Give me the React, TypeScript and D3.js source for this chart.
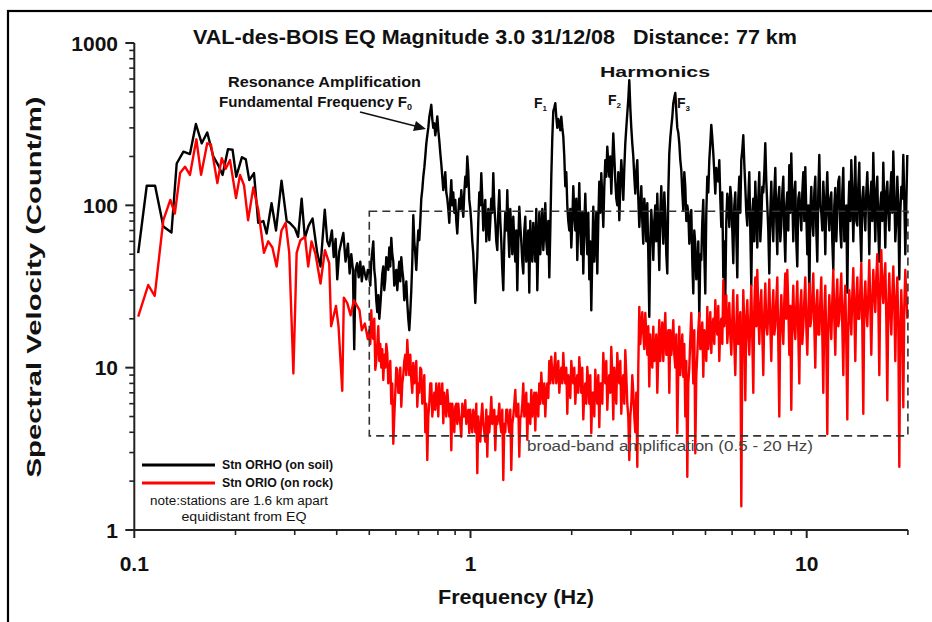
import React, { useEffect, useRef } from "react";
import * as d3 from "d3";

const title = "VAL-des-BOIS EQ Magnitude 3.0 31/12/08   Distance: 77 km";
const xTitle = "Frequency (Hz)";
const yTitle = "Spectral Velocity (Count/m)";
const xMajor = [0.1, 1, 10];
const xMajorLabels = ["0.1", "1", "10"];
const xMinor = [0.2, 0.3, 0.4, 0.5, 0.6, 0.7, 0.8, 0.9, 2, 3, 4, 5, 6, 7, 8, 9, 20];
const yMajor = [1, 10, 100, 1000];
const yMajorLabels = ["1", "10", "100", "1000"];
const yMinor = [2, 3, 4, 5, 6, 7, 8, 9, 20, 30, 40, 50, 60, 70, 80, 90, 200, 300, 400, 500, 600, 700, 800, 900];

const seriesNames = ["Stn ORHO (on soil)", "Stn ORIO (on rock)"];
const noteLines = ["note:stations are 1.6 km apart", "equidistant from EQ"];
const boxBand = { fLow: 0.5, fHigh: 20, vTop: 92, vBottom: 3.8 };
const boxLabel = "broad-band amplification (0.5 - 20 Hz)";

// low-frequency part (explicit frequency / value)
const soilLowF = [0.1027,0.1089,0.1153,0.122,0.129,0.1337,0.140,0.1464,0.1525,0.1587,0.1648,0.1718,0.1777,0.183,0.190,0.196,0.201,0.209,0.2146,0.2198,0.227,0.2337,0.242,0.2475,0.256,0.264,0.2741,0.284,0.29,0.3006,0.307,0.3146,0.3216,0.33,0.339,0.350,0.358,0.3686,0.375,0.380,0.387,0.392,0.397,0.4015,0.407,0.4186,0.425,0.432,0.437,0.442,0.447,0.451,0.455,0.46,0.465,0.47,0.475,0.48,0.485,0.49,0.495];
const soilLowV = [50.7,132,132,74,68,181,214,207,317,241,281,200,177,154,222,220,150,198,192,143,158,78,80,67,103,70,142,80,78,72,64,110,63,75,83,51,42,94,60,56,70,48,62,35,52,67.5,45,58,38,50,40,13,40,44,36,45,34,42,38,35,40];
const rockLowF = [0.1027,0.110,0.115,0.122,0.128,0.132,0.1368,0.1415,0.1464,0.153,0.158,0.1648,0.169,0.1766,0.182,0.187,0.1926,0.2007,0.2063,0.212,0.218,0.226,0.2337,0.243,0.2503,0.2575,0.265,0.274,0.282,0.289,0.2973,0.304,0.312,0.322,0.329,0.3366,0.346,0.358,0.369,0.380,0.385,0.398,0.405,0.4155,0.42,0.43,0.44,0.45,0.4676,0.475,0.485,0.495];
const rockLowV = [20.6,32.3,27.7,81,108,89,158,173,154,255,154,241,237,137,195,168,190,111,154,133,81,129,94,51,60,55,42,70,78,51,9.2,51,61,64,42,60,50,33,53,44,18,24,18,7.2,27,25,21,26,22.6,17,18.7,15];

// 0.5 - 20 Hz part: values on a log-spaced frequency grid (main samples),
// plus the samples lying half-way between them
const gridStartHz = 0.5;
const gridStepDecades = 0.005949;
const soilHighV = [
40,45,60,35,22,20,30,42,35,45,
55,63,45,35,30,45,48,35,29,25,
17,30,87,50,55,61,110,150,200,270,
350,416,300,270,353,250,180,124,160,110,
78,143,120,108,67,110,124,85,150,200,
108,78,50,25,48,120,158,70,108,75,
61,110,158,80,53,124,60,30,90,124,
48,70,85,45,30,98,60,38,85,60,
29,55,78,45,30,90,70,53,103,50,
36,150,380,426,300,320,352,265,131,100,
70,55,131,70,46,137,50,38,118,50,
35,22.6,98,60,38,140,158,73.5,190,230,
150,118,277,143,100,81,190,108,241,369,
590,300,200,118,190,73.5,131,58,90,103,
20.6,93.5,46,100,118,40,131,58,90,38,
209,304,426,493,300,241,165,93.5,131,100,
58,93.5,28.6,58,40,20.6,46,108,28.6,150,
190,313,209,118,150,190,73.5,36,27,118,
73.5,110,44,120,36,150,190,270,130,75,
160,32,110,140,55,160,80,120,241,100,
38,140,60,170,50,130,75,150,45,120,
177,209,60,140,42,120,70,160,172,50,
27,130,65,150,45,204,90,140,50,160,
70,120,40,128,90,150,55,170,80,29,
140,190,60,199,75,183,45,130,70,160,
50,140,210,60,150,45,120,183,55,140,
70,160,215,60,150,35,130,204,50,204
];
const soilMidV = [
32,52,40,26,28,24,38,30,48,40,
42,50,32,40,38,34,40,26,34,20,
22,45,60,40,70,80,125,170,240,300,
380,340,320,300,290,210,150,140,120,95,
110,100,90,80,90,95,100,120,130,160,
95,60,35,36,80,100,110,90,60,95,
80,90,100,60,90,80,40,60,70,70,
95,50,60,70,60,75,45,70,45,70,
80,45,60,95,55,50,95,70,60,80,
70,260,400,350,340,290,300,200,160,80,
95,80,90,110,80,70,90,75,70,90,
60,50,45,90,80,90,110,130,150,180,
200,180,200,110,160,130,150,170,300,450,
400,240,150,160,110,100,80,110,60,50,
60,70,80,60,70,90,80,120,50,120,
260,350,460,380,280,190,120,160,80,90,
80,45,70,35,60,50,80,50,90,120,
240,260,160,170,140,110,120,60,80,100,
130,70,100,65,110,90,220,180,90,110,
70,90,60,90,110,60,130,160,140,70,
90,80,120,80,110,60,120,70,100,70,
90,110,120,60,110,90,120,80,90,100,
90,80,120,70,120,100,70,100,110,90,
110,60,100,60,140,70,120,60,100,90,
80,120,110,80,130,70,110,90,120,100,
110,80,110,120,70,100,80,100,120,90,
120,90,120,80,100,90,110,110,100
];
const rockHighV = [
17,22.6,15,9.7,14,11,10,8.4,10,12.3,
9,6,3.4,7,9.7,7,5.75,9,12,14.8,
9,8.4,10.7,9,5.75,7,9.7,7,4,2.7,
6,8,6,5.5,7,8,6,4.55,6,7.3,
5,3.1,5,5.75,4.5,5,3.75,5,6.3,5,
3.95,4.5,5.5,4,2.24,4,5,4.5,3.5,2.83,
4,6.6,5,3.1,4.5,6,4,2.03,4,5.5,
4,2.34,5,7.3,5,2.83,5,8,6,3.6,
5,7.3,6,4.1,6,8,9.3,6,5,8,
11,11.7,8,12.3,9,7,10,12.3,8,5.2,
8,11,8,6,9,11.6,7,4.8,8,10.1,
6,3.95,7,9.7,6,4.3,8,12.3,8,5.5,
9,13.4,4.8,8,12.3,8,5.2,9,12.8,6,
2.7,6,7,4,2.45,23.7,18,16.3,21.7,12,
7.65,12,17.9,12,7,19.6,15,11,21.7,12,
7,12,19.6,10,3.95,17.9,12,8.8,5,2.13,
10,21.7,8,2.97,12,21.7,14,8.8,15,23.7,
16,12.3,20,26,16,11,20,34.6,22,14.2,
25,12,30,9,28,15,1.4,30,6.3,26,
12,32,7,36,40,14,30,9,33,16,
35,11,30,18,36,5,28,14,38,40,
12,5.5,32,15,34,8,30,18,36,12,
33,20,38,10,30,16,36,7,32,3.9,
28,15,40,12,35,20,38,9,32,4.8,
30,16,41,11,36,20,44,5.2,34,18,
46,12,40,22,50,9,53,25,44,6.3,
38,16,42,11,36,2.45,30,5.7,40,20
];
const rockMidV = [
14,16,20,11,18,14,13,12,14,8,
11,8,5,10,7,10,8,11,9,11,
12,7,8,11,8,10,6,9,6,5,
8,5,7,8,5,6,8,7,5,6,
6,6,4,6,6,4.5,6,5,4.5,5.5,
5.5,4,5,6,5,3.5,6,4,5.5,5,
5,4.5,5.5,5,5,4.5,5.5,4.5,5.5,4.5,
5.5,4.5,6,5,6,5,6,5,7,6,
4.5,5,7,7,5,6,7,8,7,6.5,
8,9,10,8,11,9,8,9,10,9,
6.5,9,10,8,7,9,10,7,6,8,
9,7,5,7,9,8,6,9,11,8,
7,9,10,6,9,11,8,6,9,5,
5,9,5,7,10,14,22,13,16,18,
16,10,11,16,12,11,19,16,12,17,
17,14,12,16,10,9,16,14,11,8,
15,14,17,9,17,13,19,17,11,13,
22,18,14,18,24,18,14,18,28,18,
16,20,14,18,14,22,12,18,20,16,
20,15,24,18,22,24,16,22,18,22,
18,22,16,26,14,20,18,26,20,24,
24,20,18,24,16,24,14,26,18,22,
18,28,18,24,16,26,16,22,14,18,
20,26,20,26,18,28,18,24,14,18,
22,28,22,26,20,30,18,26,22,28,
24,26,28,36,26,32,30,36,20,24,
22,28,24,26,18,16,18,24,28
];

const FONT = "'Liberation Sans', Arial, Helvetica, sans-serif";

function buildSeries(lowF: number[], lowV: number[], highV: number[], midV: number[]): [number, number][] {
  const pts: [number, number][] = [];
  const n = Math.min(lowF.length, lowV.length);
  for (let i = 0; i < n; i++) pts.push([lowF[i], lowV[i]]);
  highV.forEach((v, i) => {
    pts.push([gridStartHz * Math.pow(10, i * gridStepDecades), v]);
    if (i < midV.length && i < highV.length - 1) {
      pts.push([gridStartHz * Math.pow(10, (i + 0.5) * gridStepDecades), midV[i]]);
    }
  });
  return pts;
}

export default function App() {
  const ref = useRef<SVGSVGElement>(null);
  useEffect(() => {
    const svg = d3.select(ref.current);
    svg.selectAll("*").remove();
    const x = d3.scaleLog().domain([0.1, 20]).range([134.3, 907.9]);
    const y = d3.scaleLog().domain([1, 1000]).range([530, 43]);

    // frame
    svg.append("rect").attr("x", 8).attr("y", 11).attr("width", 960).attr("height", 700)
      .attr("fill", "none").attr("stroke", "#000").attr("stroke-width", 2.2);

    const line = d3.line<[number, number]>().x(d => x(d[0])).y(d => y(d[1]));
    const soil = buildSeries(soilLowF, soilLowV, soilHighV, soilMidV);
    const rock = buildSeries(rockLowF, rockLowV, rockHighV, rockMidV);

    svg.append("path").attr("d", line(soil)).attr("fill", "none").attr("stroke", "#000")
      .attr("stroke-width", 2.4).attr("stroke-linejoin", "round");
    svg.append("path").attr("d", line(rock)).attr("fill", "none").attr("stroke", "#ff0000")
      .attr("stroke-width", 2.4).attr("stroke-linejoin", "round");

    // dashed box
    svg.append("rect")
      .attr("x", x(boxBand.fLow)).attr("y", y(boxBand.vTop))
      .attr("width", x(boxBand.fHigh) - x(boxBand.fLow))
      .attr("height", y(boxBand.vBottom) - y(boxBand.vTop))
      .attr("fill", "none").attr("stroke", "#333").attr("stroke-width", 1.6)
      .attr("stroke-dasharray", "8,5");
    svg.append("text").attr("x", 527).attr("y", 451).attr("font-family", FONT).attr("font-size", 14)
      .attr("fill", "#444").attr("textLength", 286).attr("lengthAdjust", "spacingAndGlyphs").text(boxLabel);

    // axes
    const axisColor = "#222";
    const ax = svg.append("g").attr("stroke", axisColor).attr("stroke-width", 2);
    ax.append("line").attr("x1", x(0.1)).attr("x2", x(20)).attr("y1", y(1)).attr("y2", y(1));
    ax.append("line").attr("x1", x(0.1)).attr("x2", x(0.1)).attr("y1", y(1)).attr("y2", y(1000));
    xMajor.forEach(v => ax.append("line").attr("x1", x(v)).attr("x2", x(v)).attr("y1", y(1)).attr("y2", y(1) + 8));
    xMinor.forEach(v => ax.append("line").attr("x1", x(v)).attr("x2", x(v)).attr("y1", y(1)).attr("y2", y(1) + 5).attr("stroke-width", 1.6));
    yMajor.forEach(v => ax.append("line").attr("x1", x(0.1) - 9).attr("x2", x(0.1)).attr("y1", y(v)).attr("y2", y(v)));
    yMinor.forEach(v => ax.append("line").attr("x1", x(0.1) - 5).attr("x2", x(0.1)).attr("y1", y(v)).attr("y2", y(v)).attr("stroke-width", 1.6));

    const lab = svg.append("g").attr("font-family", FONT).attr("font-weight", "bold").attr("fill", "#111");
    xMajor.forEach((v, i) => lab.append("text").attr("x", x(v)).attr("y", 571).attr("text-anchor", "middle")
      .attr("font-size", 21).text(xMajorLabels[i]));
    yMajor.forEach((v, i) => lab.append("text").attr("x", 118).attr("y", y(v)).attr("dy", "0.36em")
      .attr("text-anchor", "end").attr("font-size", 21).text(yMajorLabels[i]));

    lab.append("text").attr("x", 516).attr("y", 604).attr("text-anchor", "middle").attr("font-size", 20)
      .attr("textLength", 156).attr("lengthAdjust", "spacingAndGlyphs").text(xTitle);
    lab.append("text").attr("transform", "translate(41,287) rotate(-90)").attr("text-anchor", "middle")
      .attr("font-size", 20).attr("textLength", 381).attr("lengthAdjust", "spacingAndGlyphs").text(yTitle);
    lab.append("text").attr("x", 495).attr("y", 44).attr("text-anchor", "middle").attr("font-size", 21)
      .style("white-space", "pre").attr("textLength", 604).attr("lengthAdjust", "spacingAndGlyphs").text(title);

    // annotations
    const an = svg.append("g").attr("font-family", FONT).attr("font-weight", "bold").attr("fill", "#111");
    an.append("text").attr("x", 228).attr("y", 87).attr("font-size", 15).attr("textLength", 193)
      .attr("lengthAdjust", "spacingAndGlyphs").text("Resonance Amplification");
    const fund = an.append("text").attr("x", 219).attr("y", 107).attr("font-size", 15);
    fund.append("tspan").attr("textLength", 188).attr("lengthAdjust", "spacingAndGlyphs").text("Fundamental Frequency F");
    fund.append("tspan").attr("font-size", 9).attr("dy", 3).text("0");
    an.append("text").attr("x", 600).attr("y", 77).attr("font-size", 14).attr("textLength", 110)
      .attr("lengthAdjust", "spacingAndGlyphs").text("Harmonics");
    const fLabels: [string, number, number][] = [["1", 534, 108], ["2", 608, 105], ["3", 677, 108]];
    fLabels.forEach(([s, px, py]) => {
      const t = an.append("text").attr("x", px).attr("y", py).attr("font-size", 14);
      t.append("tspan").text("F");
      t.append("tspan").attr("font-size", 8).attr("dy", 3).text(s);
    });
    svg.append("line").attr("x1", 360).attr("y1", 112).attr("x2", 419).attr("y2", 127)
      .attr("stroke", "#111").attr("stroke-width", 1.8);
    svg.append("path").attr("d", "M426,129 L416,121 L413,131 Z").attr("fill", "#111");

    // legend
    svg.append("line").attr("x1", 142).attr("x2", 215).attr("y1", 465).attr("y2", 465).attr("stroke", "#000").attr("stroke-width", 3);
    svg.append("line").attr("x1", 142).attr("x2", 215).attr("y1", 483).attr("y2", 483).attr("stroke", "#ff0000").attr("stroke-width", 3);
    const lg = svg.append("g").attr("font-family", FONT).attr("fill", "#111");
    lg.append("text").attr("x", 222).attr("y", 469).attr("font-size", 12).attr("font-weight", "bold")
      .attr("textLength", 111).attr("lengthAdjust", "spacingAndGlyphs").text(seriesNames[0]);
    lg.append("text").attr("x", 222).attr("y", 487).attr("font-size", 12).attr("font-weight", "bold")
      .attr("textLength", 111).attr("lengthAdjust", "spacingAndGlyphs").text(seriesNames[1]);
    lg.append("text").attr("x", 239).attr("y", 505).attr("font-size", 12).attr("text-anchor", "middle")
      .attr("textLength", 178).attr("lengthAdjust", "spacingAndGlyphs").text(noteLines[0]);
    lg.append("text").attr("x", 244).attr("y", 521).attr("font-size", 12).attr("text-anchor", "middle")
      .attr("textLength", 125).attr("lengthAdjust", "spacingAndGlyphs").text(noteLines[1]);
  }, []);
  return (
    <svg ref={ref} width={932} height={622}
      style={{ position: "absolute", left: 0, top: 0, background: "#fff", display: "block" }} />
  );
}
